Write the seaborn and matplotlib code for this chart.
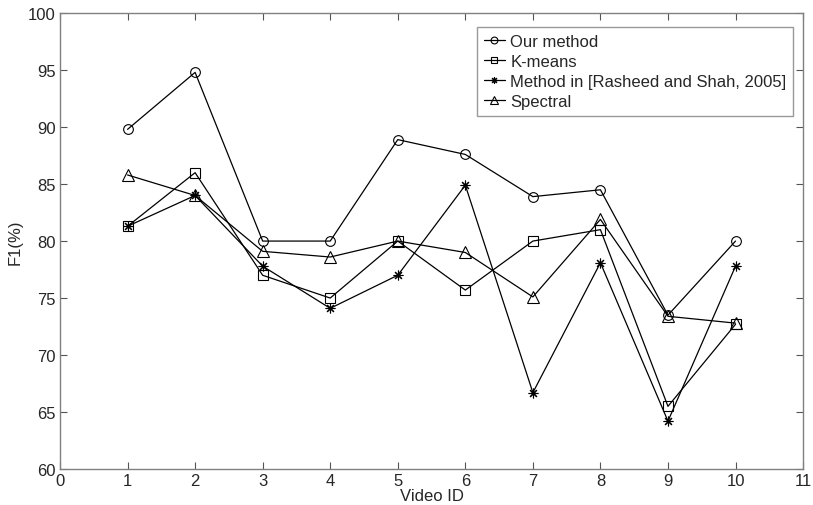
import matplotlib
matplotlib.use("Agg")
import matplotlib.pyplot as plt
import pandas as pd
import seaborn as sns

video_ids = [1, 2, 3, 4, 5, 6, 7, 8, 9, 10]
our_method = [89.8, 94.8, 80.0, 80.0, 88.9, 87.6, 83.9, 84.5, 73.5, 80.0]
kmeans = [81.3, 86.0, 77.0, 75.0, 80.0, 75.7, 80.0, 81.0, 65.5, 72.7]
rasheed = [81.3, 84.0, 77.8, 74.1, 77.0, 84.9, 66.7, 78.1, 64.2, 77.8]
spectral = [85.8, 84.0, 79.1, 78.6, 80.0, 79.0, 75.1, 81.9, 73.4, 72.8]

series_names = ["Our method", "K-means", "Method in [Rasheed and Shah, 2005]", "Spectral"]
series_values = [our_method, kmeans, rasheed, spectral]
series_markers = ["o", "s", (8, 2, 0), "^"]

sns.set_style("white")
plt.rcParams["font.family"] = ["Liberation Sans", "DejaVu Sans"]

df = pd.concat([
    pd.DataFrame({"Video ID": video_ids, "F1": vals, "method": name})
    for name, vals in zip(series_names, series_values)
])

fig = plt.figure(figsize=(8.13, 5.06), dpi=100)
ax = fig.add_axes([0.0738, 0.0711, 0.914, 0.901])

for name, marker in zip(series_names, series_markers):
    sub = df[df["method"] == name]
    sns.lineplot(data=sub, x="Video ID", y="F1", ax=ax, color="black", lw=0.9,
                 marker=marker, markersize=7 if marker != "^" else 8,
                 markerfacecolor="none", markeredgecolor="black",
                 markeredgewidth=0.8, label=name)

ax.set_xlim(0, 11)
ax.set_ylim(60, 100)
ax.set_xticks(range(0, 12))
ax.set_yticks(range(60, 101, 5))
ax.set_xlabel("Video ID", fontsize=12, labelpad=0)
ax.set_ylabel("F1(%)", fontsize=12, labelpad=4)
ax.tick_params(direction="in", length=5, width=0.8, color="#555555",
               labelsize=12, pad=3, top=True, right=True, bottom=True, left=True)
for spine in ax.spines.values():
    spine.set_color("#808080")
    spine.set_linewidth(1.0)

leg = ax.legend(loc="upper right", bbox_to_anchor=(0.9866, 0.969), borderaxespad=0,
                fontsize=12, frameon=True, fancybox=False, handlelength=1.3,
                handletextpad=0.3, borderpad=0.4, labelspacing=0.3, markerscale=0.7)
leg.get_frame().set_edgecolor("#808080")
leg.get_frame().set_linewidth(1.0)

fig.savefig("out.png", dpi=100)
